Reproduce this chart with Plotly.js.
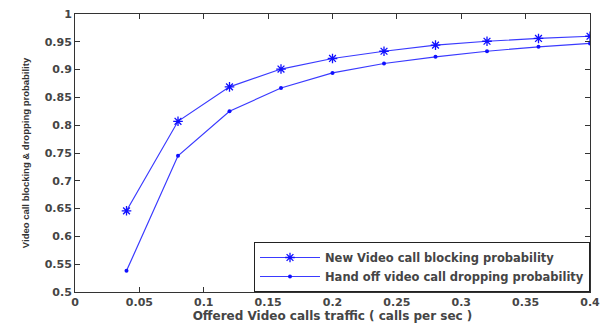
<!DOCTYPE html>
<html>
<head>
<meta charset="utf-8">
<script src="https://cdn.plot.ly/plotly-3.0.1.min.js"></script>
<style>html,body{margin:0;padding:0;background:#fff;}#chart{width:607px;height:325px;}</style>
</head>
<body>
<div id="chart"></div>
<script>
const traffic = [0.04, 0.08, 0.12, 0.16, 0.20, 0.24, 0.28, 0.32, 0.36, 0.40];
const newBlocking = [0.646, 0.807, 0.869, 0.901, 0.920, 0.933, 0.944, 0.951, 0.956, 0.960];
const handoffDropping = [0.538, 0.745, 0.825, 0.867, 0.894, 0.911, 0.923, 0.933, 0.941, 0.947];
const seriesNames = ["New Video call blocking probability", "Hand off video call dropping probability"];
const xTitle = "Offered Video calls traffic ( calls per sec )";
const yTitle = "Video call blocking & dropping probability";

const lineColor = "#3a3aff";
const traces = [
  {x: traffic, y: newBlocking, name: seriesNames[0], type: "scatter", mode: "lines+markers",
   line: {color: lineColor, width: 1.2},
   marker: {symbol: "asterisk-open", size: 8, color: "#1010ff", line: {color: "#1010ff", width: 1.3}}},
  {x: traffic, y: handoffDropping, name: seriesNames[1], type: "scatter", mode: "lines+markers",
   line: {color: lineColor, width: 1.2},
   marker: {symbol: "circle", size: 4, color: "#1010ff"}}
];

const wideFont = "DejaVu Sans, Verdana, sans-serif";
const textColor = "#454545";
const tickFont = {family: wideFont, size: 11, color: textColor, weight: "bold"};
const layout = {
  width: 607, height: 325,
  margin: {l: 75, r: 17, t: 14, b: 33},
  paper_bgcolor: "#fff", plot_bgcolor: "#fff",
  showlegend: true,
  legend: {x: 1, y: 0, xanchor: "right", yanchor: "bottom",
    bordercolor: "#222", borderwidth: 1, bgcolor: "#fff",
    font: {family: wideFont, size: 11.5, color: textColor, weight: "bold"},
    tracegroupgap: 0, itemwidth: 60},
  xaxis: {range: [0, 0.4], dtick: 0.05, tick0: 0, showgrid: false, zeroline: false,
    showline: true, linecolor: "#333", linewidth: 1, mirror: "ticks",
    ticks: "inside", ticklen: 5, tickcolor: "#333", tickfont: tickFont,
    title: {text: xTitle, font: {family: wideFont, size: 12, color: textColor, weight: "bold"}, standoff: 3}},
  yaxis: {range: [0.5, 1], dtick: 0.05, tick0: 0.5, showgrid: false, zeroline: false,
    showline: true, linecolor: "#333", linewidth: 1, mirror: "ticks",
    ticks: "inside", ticklen: 5, tickcolor: "#333", tickfont: tickFont,
    title: {text: yTitle, font: {family: "Liberation Sans, Arial, sans-serif", size: 9.5, color: "#333", weight: "bold"}, standoff: 13}}
};
Plotly.newPlot("chart", traces, layout, {displayModeBar: false, staticPlot: true});
</script>
</body>
</html>
